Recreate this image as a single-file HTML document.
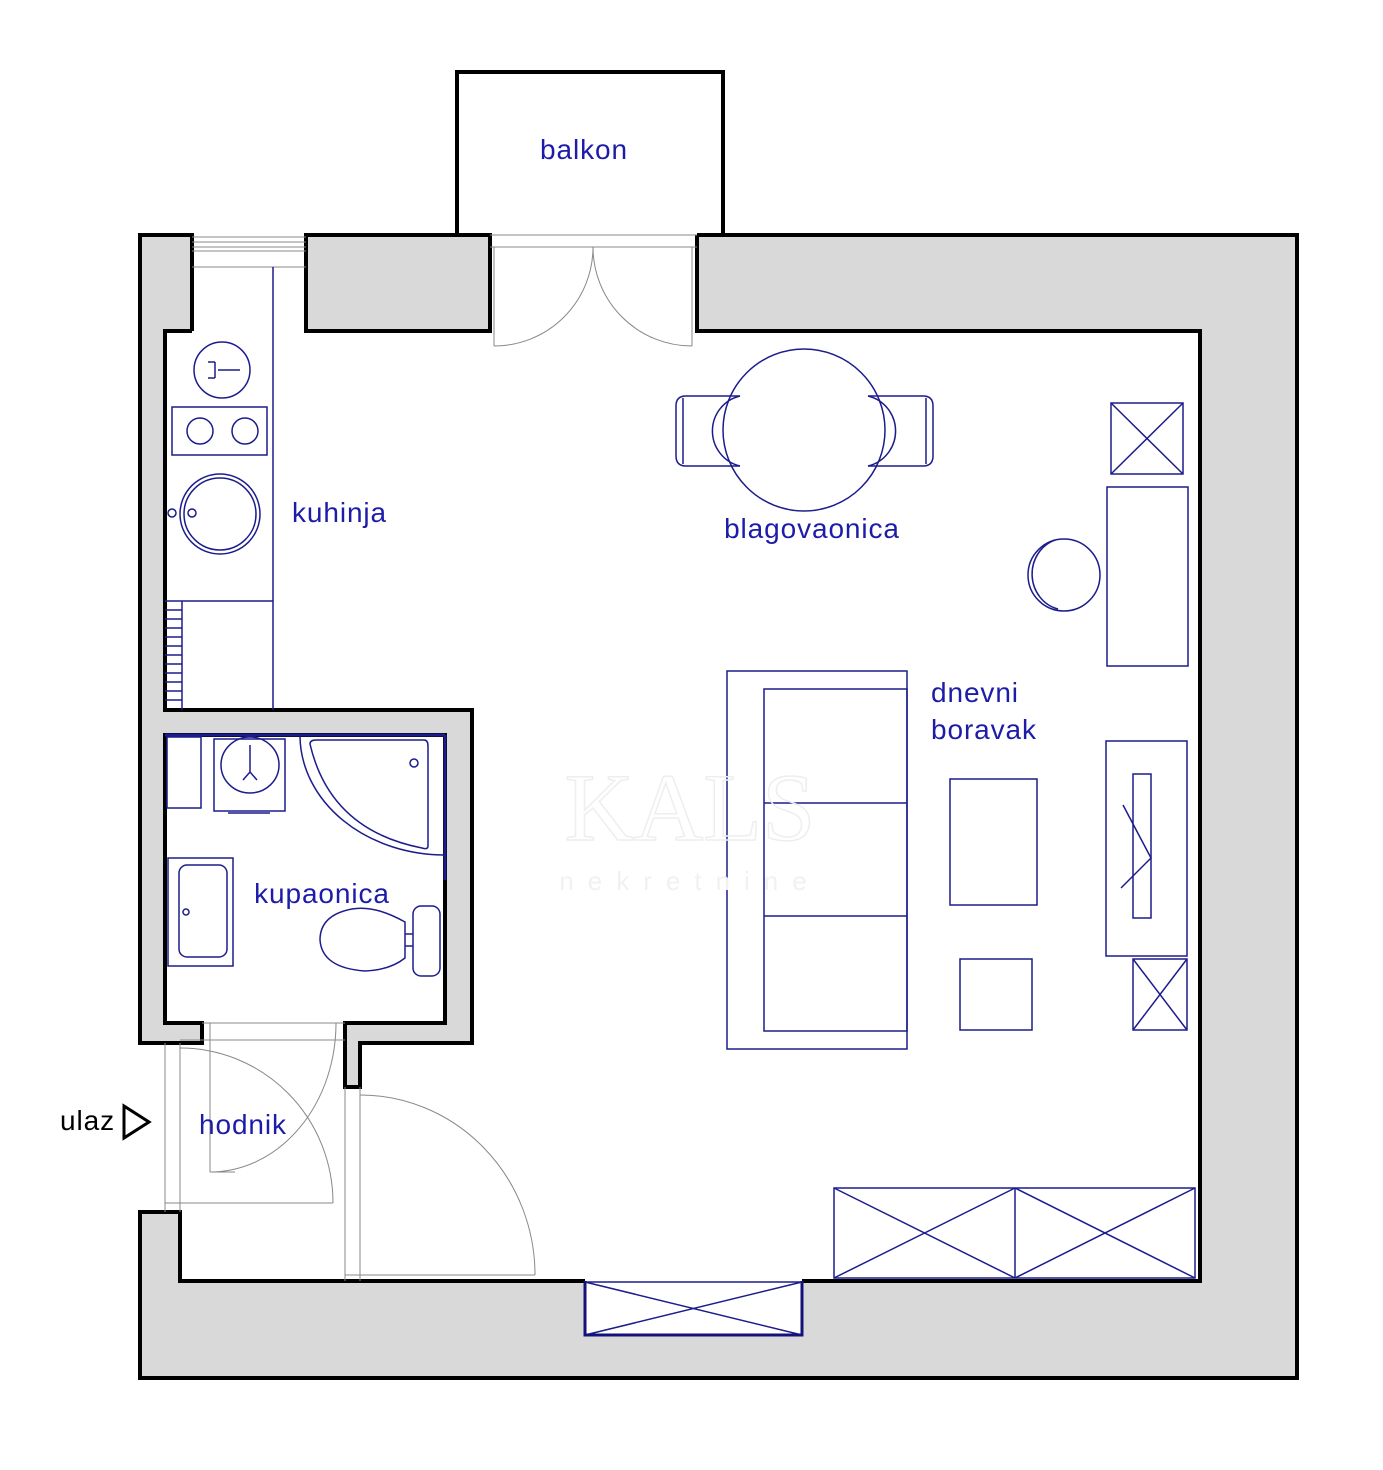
<!DOCTYPE html>
<html><head><meta charset="utf-8"><style>
html,body{margin:0;padding:0;background:#fff;}
svg{display:block;}
text{font-family:"Liberation Sans",sans-serif;font-size:28px;letter-spacing:0.9px;fill:#1c1ca8;}
</style></head><body>
<svg width="1383" height="1470" viewBox="0 0 1383 1470" xmlns="http://www.w3.org/2000/svg">
<rect width="1383" height="1470" fill="#fff"/>
<g fill="#d9d9d9">
<rect x="140" y="235" width="25" height="808"/>
<rect x="140" y="235" width="52" height="96"/>
<rect x="306" y="235" width="184" height="96"/>
<rect x="697" y="235" width="600" height="96"/>
<rect x="1200" y="235" width="97" height="1143"/>
<rect x="140" y="1281" width="1157" height="97"/>
<rect x="140" y="1212" width="40" height="90"/>
<rect x="140" y="710" width="332" height="25"/>
<rect x="445" y="710" width="27" height="333"/>
<rect x="345" y="1023" width="127" height="20"/>
<rect x="345" y="1023" width="15" height="64"/>
<rect x="140" y="1023" width="62" height="20"/>
</g>
<rect x="585" y="1281" width="217" height="54" fill="#fff"/>
<g fill="none" stroke="#000" stroke-width="4" stroke-linejoin="miter">
<polyline points="192,331 192,235 140,235 140,1043 202,1043 202,1023 165,1023 165,735 445,735 445,1023 345,1023 345,1087 360,1087 360,1043 472,1043 472,710 165,710 165,331 192,331"/>
<rect x="306" y="235" width="184" height="96"/>
<polyline points="697,235 1297,235 1297,1378 140,1378 140,1212 180,1212 180,1281 585,1281"/>
<polyline points="697,235 697,331 1200,331 1200,1281 802,1281"/>
<polyline points="457,235 457,72 723,72 723,235"/>
</g>
<text x="584" y="159" text-anchor="middle">balkon</text>
<g stroke="#888" stroke-width="1" fill="none">
<line x1="192" y1="237" x2="306" y2="237"/><line x1="192" y1="242" x2="306" y2="242"/>
<line x1="192" y1="247" x2="306" y2="247"/><line x1="192" y1="251" x2="306" y2="251"/>
<line x1="192" y1="267" x2="306" y2="267"/>
<line x1="490" y1="235" x2="697" y2="235"/><line x1="490" y1="247" x2="697" y2="247"/>
<line x1="494" y1="247" x2="494" y2="346"/><path d="M494,346 A99,99 0 0 0 593,247"/>
<line x1="692" y1="247" x2="692" y2="346"/><path d="M692,346 A99,99 0 0 1 593,247"/>
<line x1="165" y1="1043" x2="165" y2="1212"/><line x1="180" y1="1043" x2="180" y2="1212"/>
<line x1="165" y1="1203" x2="333" y2="1203"/><path d="M180,1048 A153,155 0 0 1 333,1203"/>
<line x1="202" y1="1023" x2="345" y2="1023"/><line x1="180" y1="1040" x2="345" y2="1040"/>
<line x1="210" y1="1023" x2="210" y2="1172"/><line x1="210" y1="1172" x2="235" y2="1172"/>
<path d="M210,1172 A126,149 0 0 0 336,1023"/>
<line x1="345" y1="1087" x2="345" y2="1281"/><line x1="360" y1="1087" x2="360" y2="1281"/>
<line x1="345" y1="1275" x2="535" y2="1275"/><path d="M360,1095 A175,180 0 0 1 535,1275"/>
</g>
<g stroke="#1c1c8c" stroke-width="1.5" fill="none">
<line x1="273" y1="267" x2="273" y2="710"/>
<circle cx="222" cy="370" r="28"/>
<line x1="218" y1="370" x2="240" y2="370"/><line x1="215" y1="362" x2="215" y2="378"/><line x1="208" y1="362" x2="215" y2="362"/><line x1="208" y1="378" x2="215" y2="378"/>
<rect x="172" y="407" width="95" height="48"/>
<circle cx="200" cy="431" r="13"/><circle cx="245" cy="431" r="13"/>
<circle cx="220" cy="514" r="40"/><circle cx="220" cy="514" r="36"/>
<circle cx="172" cy="513" r="4"/><circle cx="192" cy="513" r="4"/>
<line x1="165" y1="601" x2="273" y2="601"/>
<line x1="182" y1="601" x2="182" y2="710"/>
<path d="M165,610H182M165,619H182M165,628H182M165,637H182M165,646H182M165,655H182M165,664H182M165,673H182M165,682H182M165,691H182M165,700H182"/>
<circle cx="804" cy="430" r="81"/>
<path d="M740,396 H686 Q676,396 676,406 V456 Q676,466 686,466 H740"/><path d="M740,396 A36,36 0 0 0 740,466"/>
<path d="M683,398 V464"/>
<path d="M868,396 H923 Q933,396 933,406 V456 Q933,466 923,466 H868"/><path d="M868,396 A36,36 0 0 1 868,466"/>
<path d="M926,398 V464"/>
<rect x="1111" y="403" width="72" height="71"/><line x1="1111" y1="403" x2="1183" y2="474"/><line x1="1183" y1="403" x2="1111" y2="474"/>
<rect x="1107" y="487" width="81" height="179"/>
<circle cx="1064" cy="575" r="36"/><path d="M1055,540 A34,36 0 0 0 1058,609"/>
<rect x="1106" y="741" width="81" height="215"/>
<rect x="1133" y="774" width="18" height="144"/>
<polyline points="1123,805 1151,858 1121,888"/>
<rect x="1133" y="959" width="54" height="71"/><line x1="1133" y1="959" x2="1187" y2="1030"/><line x1="1187" y1="959" x2="1133" y2="1030"/>
<rect x="727" y="671" width="180" height="378"/>
<rect x="764" y="689" width="143" height="342"/>
<line x1="764" y1="803" x2="907" y2="803"/><line x1="764" y1="916" x2="907" y2="916"/>
<rect x="950" y="779" width="87" height="126"/>
<rect x="960" y="959" width="72" height="71"/>
<rect x="834" y="1188" width="361" height="90"/>
<line x1="1015" y1="1188" x2="1015" y2="1278"/>
<line x1="834" y1="1188" x2="1015" y2="1278"/><line x1="1015" y1="1188" x2="834" y2="1278"/>
<line x1="1015" y1="1188" x2="1195" y2="1278"/><line x1="1195" y1="1188" x2="1015" y2="1278"/>
<rect x="585" y="1282" width="217" height="53"/>
<line x1="585" y1="1282" x2="802" y2="1335"/><line x1="802" y1="1282" x2="585" y2="1335"/>
<rect x="167" y="737" width="34" height="71"/>
<rect x="214" y="739" width="71" height="72"/>
<ellipse cx="250" cy="765" rx="29" ry="28"/>
<polyline points="250,745 250,772 243,780"/><line x1="250" y1="772" x2="257" y2="780"/>
<line x1="228" y1="813" x2="270" y2="813"/>
<path d="M300,737 A145,120 0 0 0 445,855"/>
<path d="M310,744 Q310,740 316,740 H424 Q428,740 428,746 V846 Q428,850 422,848 Q330,830 310,744 Z"/>
<circle cx="414" cy="763" r="4"/>
<rect x="168" y="858" width="65" height="108"/>
<rect x="179" y="865" width="48" height="92" rx="8"/>
<circle cx="186" cy="912" r="3"/>
<path d="M405,922 Q375,905 352,909 Q320,915 320,940 Q322,968 365,971 Q390,970 405,958 Z"/>
<rect x="413" y="906" width="27" height="70" rx="8"/>
<line x1="405" y1="934" x2="413" y2="934"/><line x1="405" y1="946" x2="413" y2="946"/>
</g>
<line x1="165" y1="735" x2="445" y2="735" stroke="#1c1c8c" stroke-width="3"/>
<line x1="445" y1="735" x2="445" y2="880" stroke="#1c1c8c" stroke-width="3"/>
<polyline points="585,1281 585,1335 802,1335 802,1281" fill="none" stroke="#12127a" stroke-width="3"/>
<text x="690" y="840" text-anchor="middle" style="font-family:'Liberation Serif',serif;font-size:96px;fill:none;stroke:#eee;stroke-width:1.5;letter-spacing:0">KALS</text>
<text x="690" y="890" text-anchor="middle" style="font-size:26px;fill:#f1f1f1;letter-spacing:14px">nekretnine</text>
<text x="292" y="522">kuhinja</text>
<text x="812" y="538" text-anchor="middle">blagovaonica</text>
<text x="931" y="702">dnevni</text>
<text x="931" y="739">boravak</text>
<text x="322" y="903" text-anchor="middle">kupaonica</text>
<text x="199" y="1134">hodnik</text>
<text x="60" y="1130" style="fill:#000">ulaz</text>
<polygon points="124,1106 149,1122 124,1138" fill="none" stroke="#000" stroke-width="3"/>
</svg>
</body></html>
